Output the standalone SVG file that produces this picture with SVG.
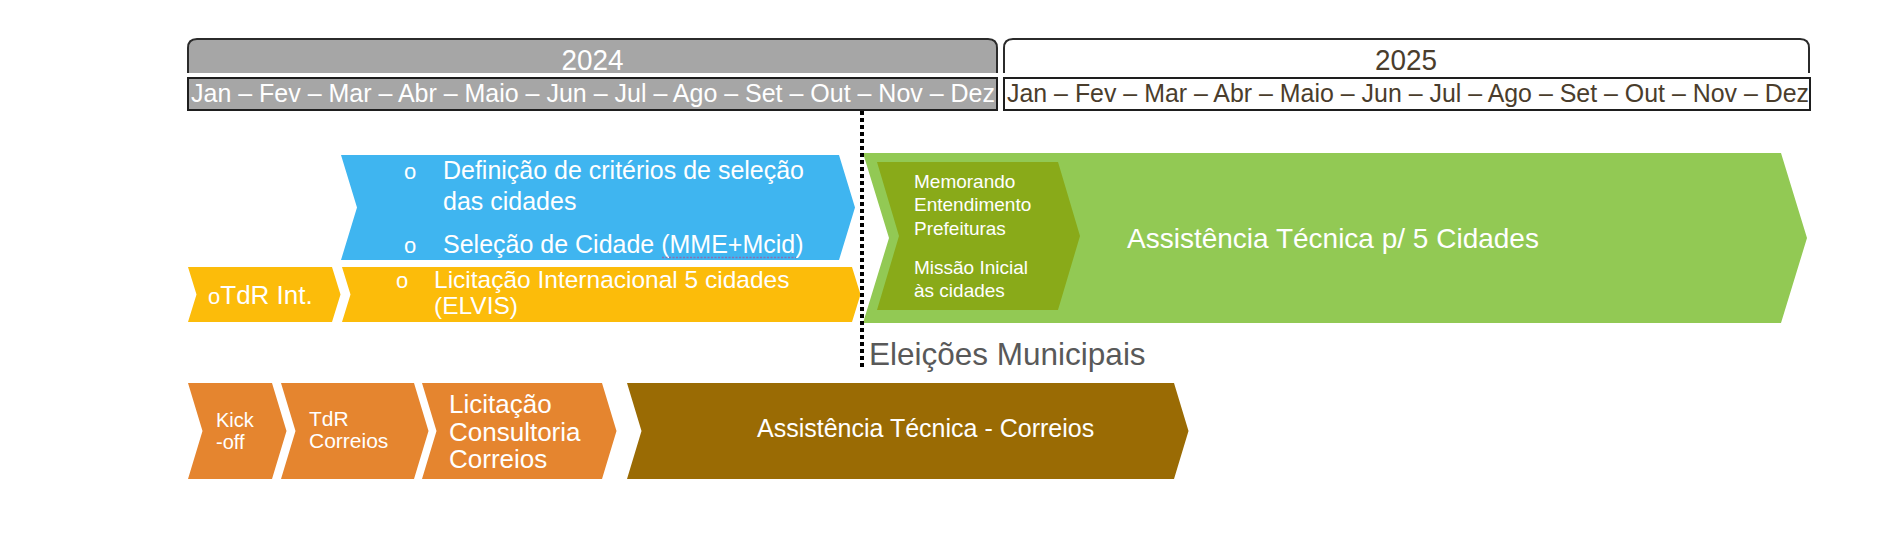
<svg xmlns="http://www.w3.org/2000/svg" width="1882" height="560" viewBox="0 0 1882 560">
<style>
text{font-family:"Liberation Sans",Arial,sans-serif;}
.w{fill:#ffffff;}
.br{fill:#4a3d2c;}
.bk{fill:none;stroke:#2b2b2b;stroke-width:2;}
.bul{font-size:22px;}
</style>
<rect width="1882" height="560" fill="#ffffff"/>
<g id="header-2024">
  <path d="M188,73 V48 Q188,39 197,39 H988 Q997,39 997,48 V73 Z" fill="#a6a6a6"/>
  <path class="bk" d="M188,73 V48 Q188,39 197,39 H988 Q997,39 997,48 V73"/>
  <rect x="188" y="78" width="809" height="32" fill="#a6a6a6" stroke="#1e1e1e" stroke-width="2"/>
  <text class="w" x="592.5" y="70" font-size="29" text-anchor="middle" textLength="62" lengthAdjust="spacingAndGlyphs">2024</text>
  <text class="w" x="191" y="102" font-size="26" textLength="804" lengthAdjust="spacingAndGlyphs">Jan – Fev – Mar – Abr – Maio – Jun – Jul – Ago – Set – Out – Nov – Dez</text>
</g>
<g id="header-2025">
  <path class="bk" d="M1004,73 V48 Q1004,39 1013,39 H1800 Q1809,39 1809,48 V73"/>
  <rect x="1004" y="78" width="806" height="32" fill="#ffffff" stroke="#1e1e1e" stroke-width="2"/>
  <text class="br" x="1406" y="70" font-size="29" text-anchor="middle" textLength="62" lengthAdjust="spacingAndGlyphs">2025</text>
  <text class="br" x="1007" y="102" font-size="26" textLength="802" lengthAdjust="spacingAndGlyphs">Jan – Fev – Mar – Abr – Maio – Jun – Jul – Ago – Set – Out – Nov – Dez</text>
</g>
<g id="selecao-cidades">
  <polygon points="341,155 839,155 855,207.5 839,260 341,260 357,207.5" fill="#3fb5f0"/>
  <text class="w bul" x="404" y="179">o</text>
  <text class="w" x="443" y="179" font-size="25" textLength="361" lengthAdjust="spacingAndGlyphs">Definição de critérios de seleção</text>
  <text class="w" x="443" y="210" font-size="25">das cidades</text>
  <text class="w bul" x="404" y="253">o</text>
  <text class="w" x="443" y="253" font-size="25">Seleção de Cidade (MME+Mcid)</text>
  <line x1="662" y1="257.5" x2="796" y2="257.5" stroke="#8a6fb0" stroke-width="1.5" stroke-dasharray="2 1.5"/>
</g>
<g id="tdr-int">
  <polygon points="188,267 332,267 340.5,294.5 332,322 188,322 196.5,294.5" fill="#fcbc0a"/>
  <text class="w" x="208" y="304"><tspan font-size="22">o</tspan><tspan font-size="26">TdR Int.</tspan></text>
</g>
<g id="licitacao-internacional">
  <polygon points="342,267 852,267 860.5,294.5 852,322 342,322 350.5,294.5" fill="#fcbc0a"/>
  <text class="w bul" x="396" y="288">o</text>
  <text class="w" x="434" y="288" font-size="24.5">Licitação Internacional 5 cidades</text>
  <text class="w" x="434" y="314" font-size="24.5">(ELVIS)</text>
</g>
<g id="assistencia-5-cidades">
  <polygon points="863,153 1781,153 1807,238 1781,323 863,323 889,238" fill="#92c954"/>
  <text class="w" x="1127" y="248" font-size="28">Assistência Técnica p/ 5 Cidades</text>
</g>
<g id="memorando-missao">
  <polygon points="877,162 1058,162 1080,236 1058,310 877,310 899,236" fill="#89aa19"/>
  <text class="w" x="914" y="188" font-size="19">Memorando</text>
  <text class="w" x="914" y="211" font-size="19">Entendimento</text>
  <text class="w" x="914" y="235" font-size="19">Prefeituras</text>
  <text class="w" x="914" y="274" font-size="19">Missão Inicial</text>
  <text class="w" x="914" y="297" font-size="19">às cidades</text>
</g>
<g id="kick-off">
  <polygon points="188,383 272,383 286.5,431 272,479 188,479 202.5,431" fill="#e5852f"/>
  <text class="w" x="216" y="427" font-size="20">Kick</text>
  <text class="w" x="216" y="449" font-size="20">-off</text>
</g>
<g id="tdr-correios">
  <polygon points="281,383 414,383 428.5,431 414,479 281,479 295.5,431" fill="#e5852f"/>
  <text class="w" x="309" y="426" font-size="21">TdR</text>
  <text class="w" x="309" y="448" font-size="21">Correios</text>
</g>
<g id="licitacao-consultoria">
  <polygon points="422,383 602,383 616.5,431 602,479 422,479 436.5,431" fill="#e5852f"/>
  <text class="w" x="449" y="413" font-size="26">Licitação</text>
  <text class="w" x="449" y="440.5" font-size="26">Consultoria</text>
  <text class="w" x="449" y="468" font-size="26">Correios</text>
</g>
<g id="assistencia-correios">
  <polygon points="627,383 1174,383 1188.5,431 1174,479 627,479 641.5,431" fill="#9a6b04"/>
  <text class="w" x="757" y="437" font-size="25">Assistência Técnica - Correios</text>
</g>
<g id="eleicoes">
  <text x="869" y="365" font-size="31.5" fill="#595959">Eleições Municipais</text>
</g>
<g id="connectors">
  <line x1="862" y1="111" x2="862" y2="370" stroke="#000000" stroke-width="4" stroke-dasharray="4 3"/>
</g>
</svg>
